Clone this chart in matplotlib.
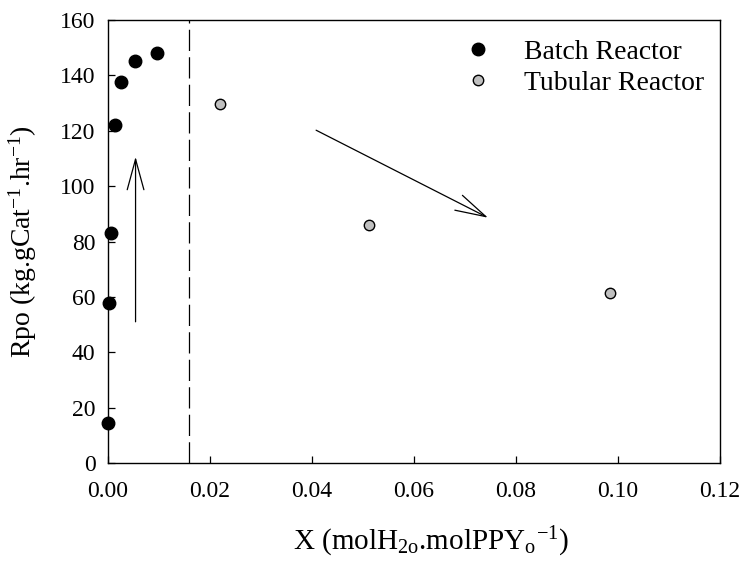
import matplotlib
matplotlib.use("Agg")
import matplotlib.pyplot as plt

# data
batch_x = [0.0000, 0.0002, 0.0006, 0.0014, 0.0025, 0.0052, 0.0097]
batch_y = [14.6, 57.7, 83.2, 122.0, 137.7, 145.3, 148.0]

tubular_x = [0.0220, 0.0511, 0.0984]
tubular_y = [129.5, 86.0, 61.5]

x_ticks = [0.00, 0.02, 0.04, 0.06, 0.08, 0.10, 0.12]
y_ticks = [0, 20, 40, 60, 80, 100, 120, 140, 160]
x_divider = 0.0158

plt.rcParams["font.family"] = ["Liberation Serif", "DejaVu Serif"]
plt.rcParams["mathtext.fontset"] = "custom"
plt.rcParams["mathtext.rm"] = "Liberation Serif"
plt.rcParams["mathtext.it"] = "Liberation Serif:italic"

fig = plt.figure(figsize=(7.47, 5.65), dpi=100)
ax = fig.add_axes([0.1446, 0.1805, 0.8193, 0.7841])

# points
ax.plot(batch_x, batch_y, "o", color="black", markersize=9,
        markeredgecolor="black", label="Batch Reactor", clip_on=False, zorder=3)
ax.plot(tubular_x, tubular_y, "o", color="#c0c0c0", markersize=7.5,
        markeredgecolor="black", markeredgewidth=1.0,
        label="Tubular Reactor", zorder=3)

# dashed divider
ax.axvline(x_divider, color="black", lw=0.9, dashes=(17, 5))

# arrows
arrow_style = "->,head_length=2.2,head_width=0.6"
ax.annotate("", xy=(0.0054, 110.6), xytext=(0.0054, 51.0),
            arrowprops=dict(arrowstyle=arrow_style, color="black", lw=0.9,
                            shrinkA=0, shrinkB=0, mutation_scale=10))
ax.annotate("", xy=(0.0745, 88.6), xytext=(0.0408, 120.2),
            arrowprops=dict(arrowstyle=arrow_style, color="black", lw=0.9,
                            shrinkA=0, shrinkB=0, mutation_scale=10))

ax.set_xlim(0, 0.12)
ax.set_ylim(0, 160)
ax.set_xticks(x_ticks)
ax.set_xticklabels(["%.2f" % v for v in x_ticks])
ax.set_yticks(y_ticks)
ax.tick_params(direction="in", length=5, width=0.9, labelsize=17)
ax.tick_params(axis="x", pad=13)
ax.tick_params(axis="y", pad=9)
for s in ax.spines.values():
    s.set_linewidth(1.0)

ax.set_xlabel(r"X (molH$_{\mathrm{2o}}$.molPPY$_{\mathrm{o}}$$^{\mathrm{-1}}$)",
              fontsize=21)
ax.xaxis.set_label_coords(0.528, -0.14)
ax.set_ylabel(r"Rpo (kg.gCat$^{\mathrm{-1}}$.hr$^{\mathrm{-1}}$)", fontsize=20)
ax.yaxis.set_label_coords(-0.112, 0.5)

ax.legend(loc="upper left", bbox_to_anchor=(0.55, 1.0), frameon=False,
          fontsize=20, handlelength=1.0, handletextpad=1.15,
          labelspacing=0.2, borderpad=0.2)

fig.savefig("out.png", dpi=100)
